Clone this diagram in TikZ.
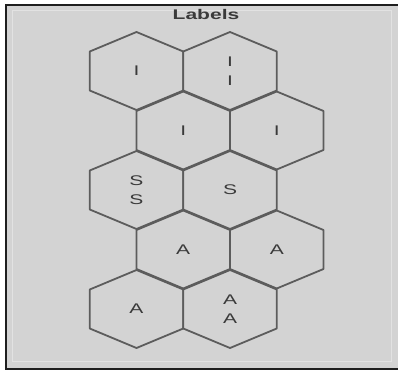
\documentclass[tikz,border=0pt]{standalone}
\usepackage{fontspec}
\usepackage{graphicx}
\setmainfont{Liberation Sans}
\definecolor{bggray}{HTML}{D3D3D3}
\definecolor{edgegray}{HTML}{5C5C5C}
\definecolor{framedark}{HTML}{1E1E1E}
\definecolor{bevel}{HTML}{E2E2E2}
\definecolor{txtgray}{HTML}{3A3A3A}
\newcommand\wide[1]{\scalebox{1.5}[1]{#1}}
\newcommand\hexcell[2]{%
  \draw[hexline,shift={(#1,#2)}] (0,-39) -- (46.75,-19.5) -- (46.75,19.5) -- (0,39) -- (-46.75,19.5) -- (-46.75,-19.5) -- cycle;}
\tikzset{
  hexline/.style={draw=edgegray, fill=bggray, line width=1.8pt, line join=round},
  lbl/.style={text=txtgray, font=\fontsize{14}{19}\selectfont, align=center, inner sep=0pt},
  ttl/.style={text=txtgray, font=\fontsize{14}{17}\selectfont\bfseries, inner sep=0pt},
}
\begin{document}
\begin{tikzpicture}[x=1pt,y=-1pt]
\useasboundingbox (0,0) rectangle (398,374);
\fill[white] (0,0) rectangle (398,374);
\fill[bggray] (6,5) rectangle (398,369);
\draw[bevel, line width=1pt] (12,11) rectangle (391,361);
\draw[framedark, line width=2pt] (398,5) -- (6,5) -- (6,369) -- (398,369);
% hexagons
\hexcell{136.5}{71}
\hexcell{230}{71}
\hexcell{183.25}{130.5}
\hexcell{276.75}{130.5}
\hexcell{136.5}{190}
\hexcell{230}{190}
\hexcell{183.25}{249.5}
\hexcell{276.75}{249.5}
\hexcell{136.5}{309}
\hexcell{230}{309}
% title
\node[ttl] (title) at (206,14.5) {\wide{Labels}};
% labels
\node[lbl] (l11) at (136.5,71) {\wide{I}};
\node[lbl] (l12) at (230,71) {\wide{I}\\\wide{I}};
\node[lbl] (l21) at (183.25,130.5) {\wide{I}};
\node[lbl] (l22) at (276.75,130.5) {\wide{I}};
\node[lbl] (l31) at (136.5,190) {\wide{S}\\\wide{S}};
\node[lbl] (l32) at (230,190) {\wide{S}};
\node[lbl] (l41) at (183.25,249.5) {\wide{A}};
\node[lbl] (l42) at (276.75,249.5) {\wide{A}};
\node[lbl] (l51) at (136.5,309) {\wide{A}};
\node[lbl] (l52) at (230,309) {\wide{A}\\\wide{A}};
\end{tikzpicture}
\end{document}
